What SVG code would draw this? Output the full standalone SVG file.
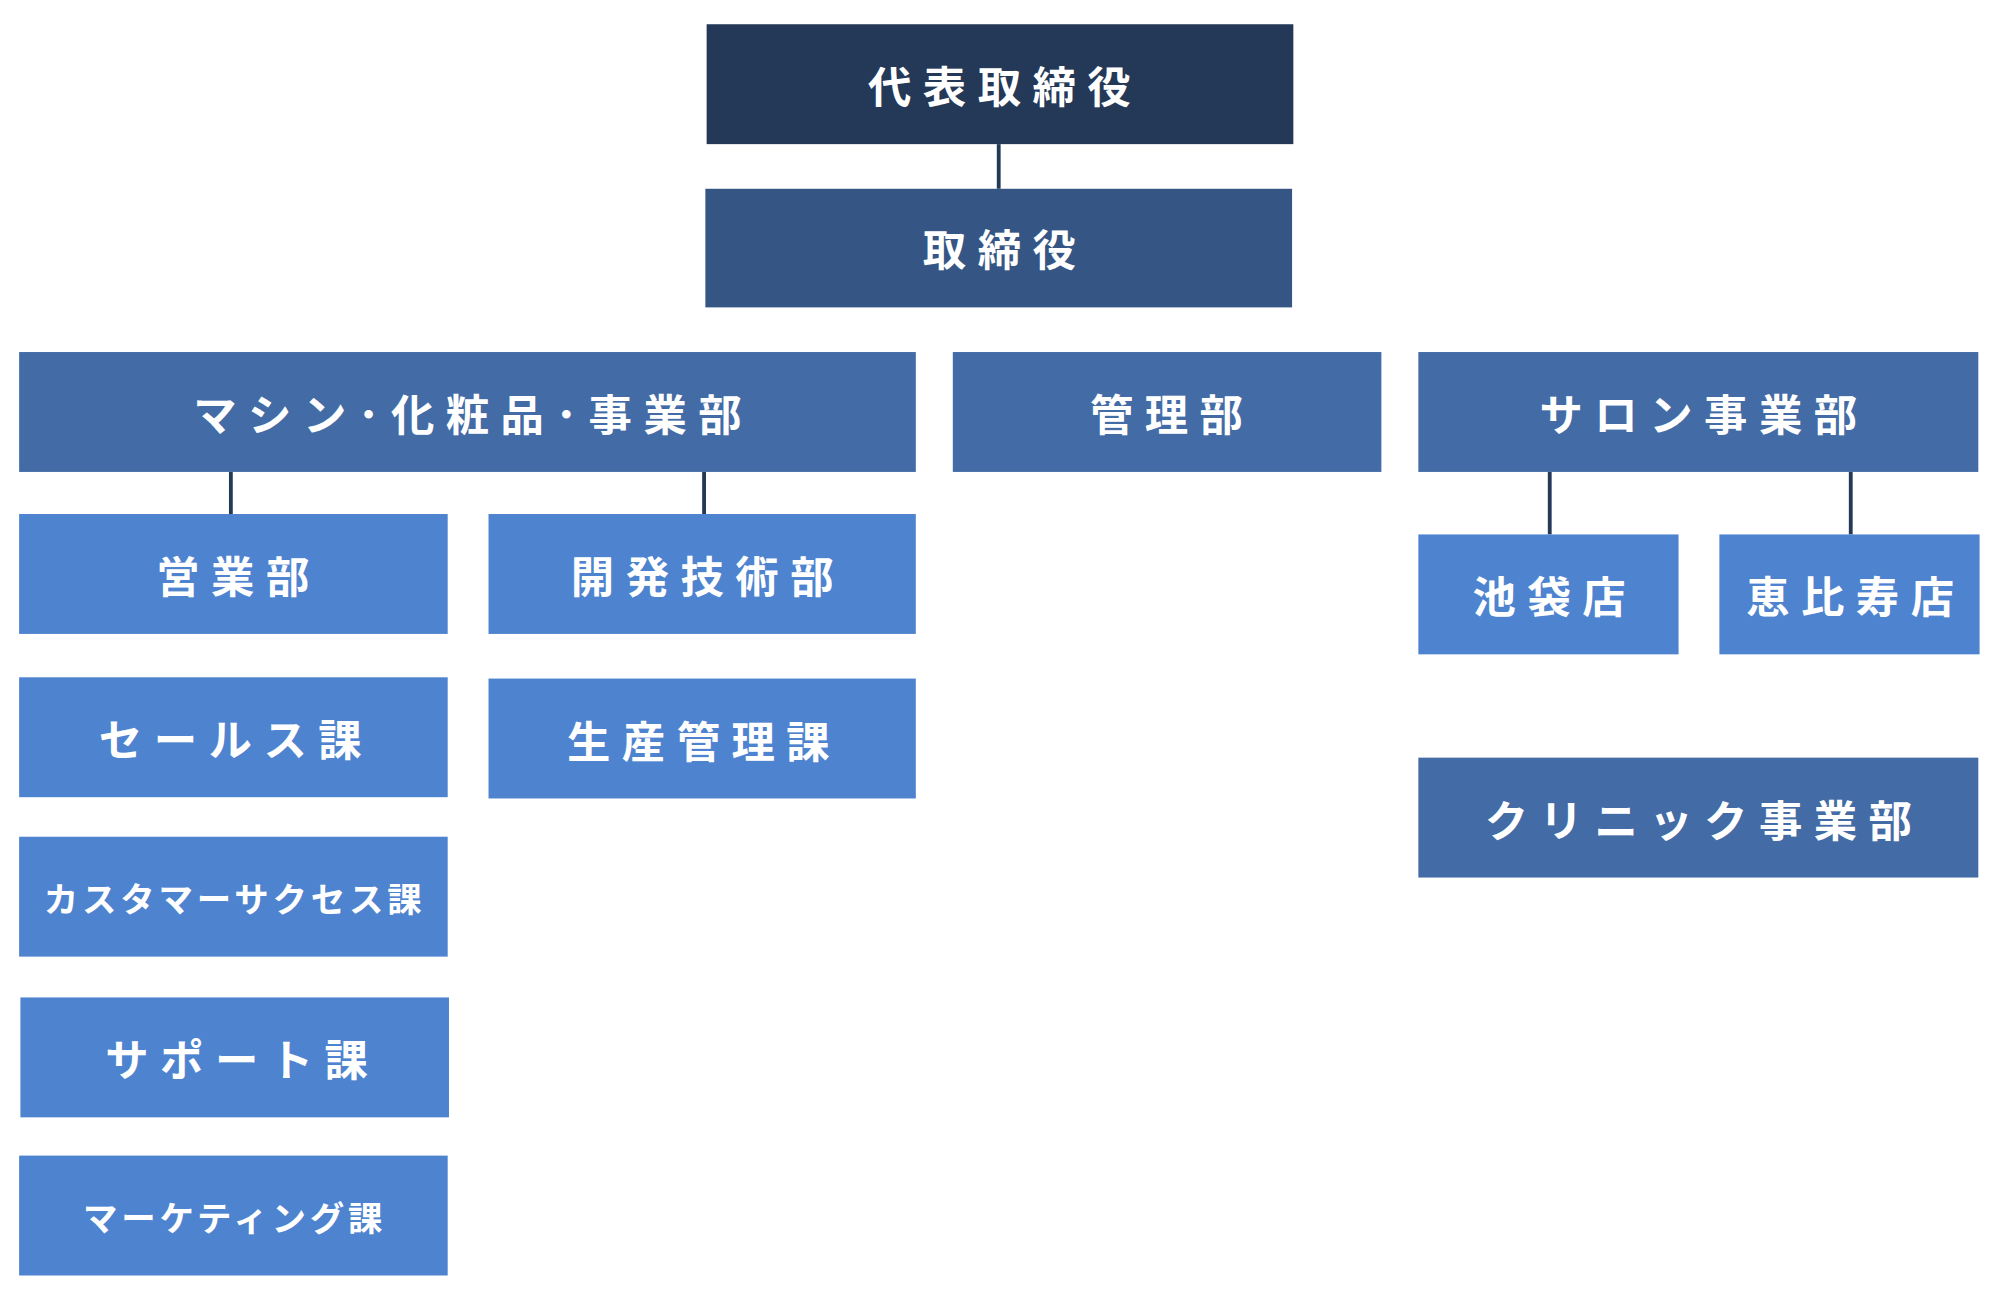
<svg xmlns="http://www.w3.org/2000/svg" width="2000" height="1300" viewBox="0 0 2000 1300">
<style>
text{font-family:"Noto Sans CJK JP","Noto Sans CJK SC",sans-serif;font-weight:700;fill:#fff;text-anchor:middle;dominant-baseline:central;font-size:34px;letter-spacing:9px}
.c0{fill:#243858}.c1{fill:#355684}.c2{fill:#436ba5}.c3{fill:#4e83cf}
.s{font-size:27px;letter-spacing:3px}
line{stroke:#243858;stroke-width:3}
</style>
<rect width="2000" height="1300" fill="#fff"/>
<g transform="scale(1.2755)">
<g id="connectors">
<line x1="783" y1="113" x2="783" y2="148"/>
<line x1="181" y1="370" x2="181" y2="403"/>
<line x1="552" y1="370" x2="552" y2="403"/>
<line x1="1215" y1="370" x2="1215" y2="419"/>
<line x1="1451" y1="370" x2="1451" y2="419"/>
</g>
<g id="ceo"><rect class="c0" x="554" y="19" width="460" height="94"/><text x="788" y="66">代表取締役</text></g>
<g id="board"><rect class="c1" x="553" y="148" width="460" height="93"/><text x="788" y="194">取締役</text></g>
<g id="machine"><rect class="c2" x="15" y="276" width="703" height="94"/><text x="371" y="323">マシン･化粧品･事業部</text></g>
<g id="admin"><rect class="c2" x="747" y="276" width="336" height="94"/><text x="919" y="323">管理部</text></g>
<g id="salon"><rect class="c2" x="1112" y="276" width="439" height="94"/><text x="1336" y="323">サロン事業部</text></g>
<g id="sales"><rect class="c3" x="15" y="403" width="336" height="94"/><text x="187" y="450">営業部</text></g>
<g id="dev"><rect class="c3" x="383" y="403" width="335" height="94"/><text x="555" y="450">開発技術部</text></g>
<g id="salesSec"><rect class="c3" x="15" y="531" width="336" height="94"/><text x="185" y="578">セールス課</text></g>
<g id="prod"><rect class="c3" x="383" y="532" width="335" height="94"/><text x="552" y="579">生産管理課</text></g>
<g id="cs"><rect class="c3" x="15" y="656" width="336" height="94"/><text class="s" x="184" y="703">カスタマーサクセス課</text></g>
<g id="support"><rect class="c3" x="16" y="782" width="336" height="94"/><text x="190" y="829">サポート課</text></g>
<g id="marketing"><rect class="c3" x="15" y="906" width="336" height="94"/><text class="s" x="184" y="953">マーケティング課</text></g>
<g id="ikebukuro"><rect class="c3" x="1112" y="419" width="204" height="94"/><text x="1219" y="466">池袋店</text></g>
<g id="ebisu"><rect class="c3" x="1348" y="419" width="204" height="94"/><text x="1455" y="466">恵比寿店</text></g>
<g id="clinic"><rect class="c2" x="1112" y="594" width="439" height="94"/><text x="1336" y="641">クリニック事業部</text></g>
</g>
</svg>
